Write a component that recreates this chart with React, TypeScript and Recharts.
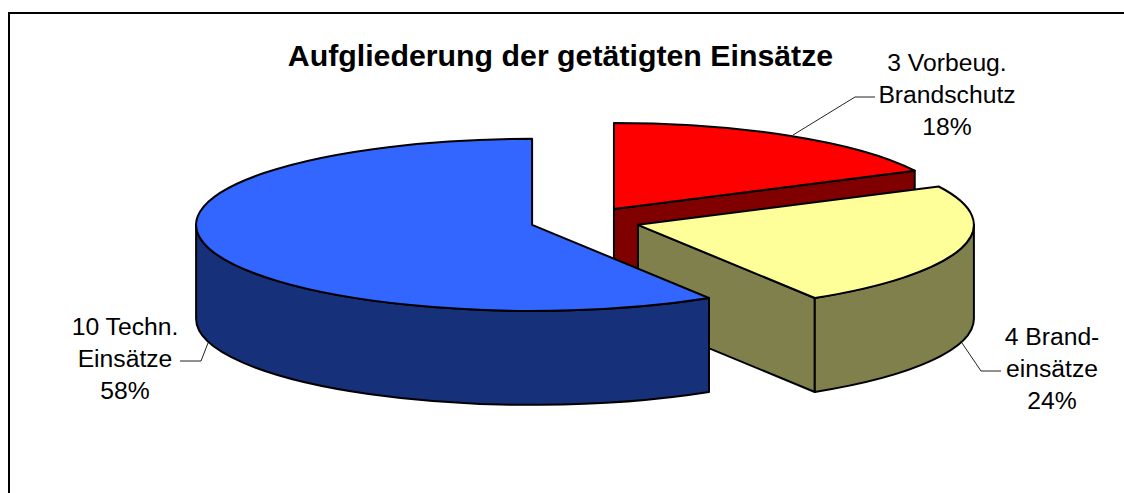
import { PieChart, Pie, Cell } from 'recharts';

const categories = ['Vorbeug. Brandschutz', 'Brandeinsätze', 'Techn. Einsätze'];
const values = [3, 4, 10];
const labelLines = [
  ['3 Vorbeug.', 'Brandschutz', '18%'],
  ['4 Brand-', 'einsätze', '24%'],
  ['10 Techn.', 'Einsätze', '58%'],
];
const topColors = ['#FF0000', '#FFFF99', '#3366FF'];
const sideColors = ['#800000', '#80804D', '#16307A'];

const title = 'Aufgliederung der getätigten Einsätze';

// label placement: text centre, first baseline, leader line
const labelX = [947, 1052, 125];
const labelY = [71, 345, 335];
const leaders = [
  '793,135 855,97 875,97',
  '962,343 981,371 1001,371',
  '208,343 201,361 180,361',
];

const TILT = 0.256;
const DEPTH = 94;
const EXPLODE = 55;

const rad = (a: number) => (a * Math.PI) / 180;

const Slice3D = (props: any) => {
  const { cx, cy, outerRadius: rx, startAngle: s, endAngle: e, midAngle, index } = props;
  const ry = rx * TILT;
  const ox = cx + EXPLODE * Math.cos(rad(midAngle));
  const oy = cy - EXPLODE * TILT * Math.sin(rad(midAngle));
  const px = (a: number) => ox + rx * Math.cos(rad(a));
  const py = (a: number) => oy - ry * Math.sin(rad(a));
  const arc = (from: number, to: number, sweep: number, dy = 0) =>
    `A${rx} ${ry} 0 ${Math.abs(from - to) > 180 ? 1 : 0} ${sweep} ${px(to)} ${py(to) + dy}`;
  const side = sideColors[index];
  const common = { stroke: '#000', strokeWidth: 2, strokeLinejoin: 'round' as const };

  // side wall is only seen on the front half of the ellipse
  const wFrom = Math.min(s, 0);
  const wTo = Math.max(e, -180);
  const showEndFace = Math.cos(rad(e)) > 0.001;

  return (
    <g>
      {showEndFace && (
        <path
          d={`M${ox} ${oy}L${px(e)} ${py(e)}L${px(e)} ${py(e) + DEPTH}L${ox} ${oy + DEPTH}Z`}
          fill={side}
          {...common}
        />
      )}
      {wFrom > wTo && (
        <path
          d={`M${px(wFrom)} ${py(wFrom)}${arc(wFrom, wTo, 1)}L${px(wTo)} ${py(wTo) + DEPTH}${arc(wTo, wFrom, 0, DEPTH)}Z`}
          fill={side}
          {...common}
        />
      )}
      <path
        d={`M${ox} ${oy}L${px(s)} ${py(s)}${arc(s, e, 1)}Z`}
        fill={props.fill}
        {...common}
      />
    </g>
  );
};

const SliceLabel = ({ index }: any) => (
  <g>
    <polyline points={leaders[index]} fill="none" stroke="#222" strokeWidth={1} />
    <text x={labelX[index]} textAnchor="middle" fontFamily="Liberation Sans" fontSize={24.7} fill="#000">
      {labelLines[index].map((line, i) => (
        <tspan key={line} x={labelX[index]} y={labelY[index] + i * 32}>
          {line}
        </tspan>
      ))}
    </text>
  </g>
);

const chartData = categories.map((name, i) => ({ name, value: values[i] }));

export default function App() {
  return (
    <div style={{ position: 'absolute', left: 0, top: 0, width: 1124, height: 493, background: '#fff' }}>
      <PieChart width={1124} height={493} margin={{ top: 0, right: 0, bottom: 0, left: 0 }}>
        <polyline points="9,493 9,13 1124,13" fill="none" stroke="#000" strokeWidth={2} />
        <text x={560.5} y={66} textAnchor="middle" fontFamily="Liberation Sans" fontWeight="bold" fontSize={30.3} fill="#000">
          {title}
        </text>
        <Pie
          data={chartData}
          dataKey="value"
          nameKey="name"
          cx={585}
          cy={221}
          innerRadius={0}
          outerRadius={336}
          startAngle={90}
          endAngle={-270}
          paddingAngle={0}
          isAnimationActive={false}
          shape={Slice3D}
          inactiveShape={Slice3D}
          label={SliceLabel}
          labelLine={false}
        >
          {topColors.map((c) => (
            <Cell key={c} fill={c} />
          ))}
        </Pie>
      </PieChart>
    </div>
  );
}
